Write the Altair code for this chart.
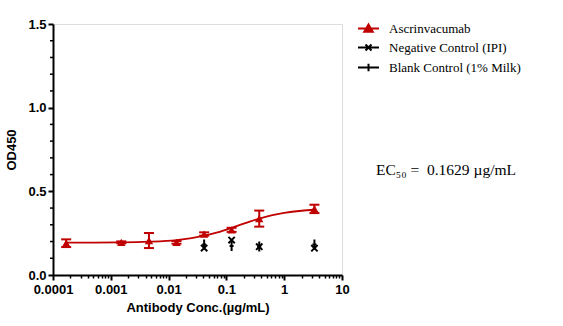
import altair as alt
import pandas as pd

# ---------------- data ----------------
conc = [0.000169, 0.00152, 0.00457, 0.0137, 0.0412, 0.123, 0.370, 3.333]
od_mean = [0.190, 0.195, 0.206, 0.195, 0.245, 0.270, 0.337, 0.395]
od_err = [0.023, 0.006, 0.045, 0.008, 0.010, 0.012, 0.048, 0.025]

ctrl_conc = [0.0412, 0.123, 0.370, 3.333]
neg_od = [0.161, 0.209, 0.169, 0.160]
blank_od = [0.182, 0.174, 0.170, 0.183]

# fitted curve
curve_conc = [0.000169, 0.0005, 0.0015, 0.0046, 0.0137, 0.025, 0.041, 0.07,
              0.123, 0.2, 0.37, 0.6, 1.0, 2.0, 3.333]
curve_od = [0.193, 0.194, 0.195, 0.199, 0.209, 0.221, 0.235, 0.255,
            0.282, 0.307, 0.337, 0.356, 0.371, 0.384, 0.390]

series_labels = ["Ascrinvacumab", "Negative Control (IPI)", "Blank Control (1% Milk)"]
x_major = [0.0001, 0.001, 0.01, 0.1, 1, 10]
x_minor = [m * 10 ** k for k in range(-4, 1) for m in range(2, 10)]
y_major = [0.0, 0.5, 1.0, 1.5]
y_minor = [0.1, 0.2, 0.3, 0.4, 0.6, 0.7, 0.8, 0.9, 1.1, 1.2, 1.3, 1.4]
ec50_text = "EC₅₀ =\u00a0 0.1629 µg/mL"

RED = "#C00000"
BLACK = "#000000"
SANS = "Liberation Sans"
SERIF = "Liberation Serif"

main_df = pd.DataFrame({"conc": conc, "od": od_mean,
                        "lo": [m - e for m, e in zip(od_mean, od_err)],
                        "hi": [m + e for m, e in zip(od_mean, od_err)]})
ctrl_df = pd.DataFrame({"conc": ctrl_conc, "neg": neg_od, "blank": blank_od})
curve_df = pd.DataFrame({"conc": curve_conc, "od": curve_od})
legend_df = pd.DataFrame({"series": series_labels})
yminor_df = pd.DataFrame({"v": y_minor})

x_is_major = "abs(log(datum.value)/log(10) - round(log(datum.value)/log(10))) < 1e-6"

xscale = alt.Scale(type="log", domain=[0.0001, 10], nice=False)
yscale = alt.Scale(domain=[0, 1.5], nice=False, zero=False)

xaxis = alt.Axis(values=sorted(x_major + x_minor), format="~g",
                 labelExpr=f"({x_is_major}) ? datum.label : ''",
                 title="Antibody Conc.(µg/mL)",
                 grid=False, domainWidth=2, domainColor=BLACK, tickColor=BLACK,
                 tickWidth={"condition": {"test": x_is_major, "value": 2}, "value": 1.5},
                 tickSize={"condition": {"test": x_is_major, "value": 5}, "value": 3},
                 labelFont=SANS, labelFontWeight="bold",
                 labelFontSize=13, labelColor=BLACK, labelPadding=3,
                 titleFont=SANS, titleFontWeight="bold", titleFontSize=13,
                 titleColor=BLACK, titlePadding=5, labelFlush=False,
                 labelOverlap=False)
yaxis = alt.Axis(values=y_major, format=".1f",
                 title="OD450", grid=False,
                 domainWidth=2, domainColor=BLACK, tickColor=BLACK,
                 tickWidth=2, tickSize=5,
                 labelFont=SANS, labelFontWeight="bold", labelFontSize=13,
                 labelColor=BLACK, labelPadding=2, titleFont=SANS,
                 titleFontWeight="bold", titleFontSize=13, titleColor=BLACK,
                 titlePadding=9, labelOverlap=False, labelFlush=False)

curve = alt.Chart(curve_df).mark_line(color=RED, strokeWidth=1.8,
                                      interpolate="monotone").encode(
    x=alt.X("conc:Q", scale=xscale, axis=xaxis),
    y=alt.Y("od:Q", scale=yscale, axis=yaxis),
)

# minor ticks of the y axis
yminor = alt.Chart(yminor_df).mark_rule(color=BLACK, strokeWidth=1.5, clip=False).encode(
    y=alt.Y("v:Q"), x=alt.value(-3), x2=alt.value(0))

err_rule = alt.Chart(main_df).mark_rule(color=RED, strokeWidth=2, opacity=1).encode(
    x=alt.X("conc:Q"), y=alt.Y("lo:Q"), y2="hi:Q")
cap_lo = alt.Chart(main_df).mark_tick(color=RED, orient="horizontal", size=10,
                                      thickness=2, opacity=1).encode(
    x=alt.X("conc:Q"), y=alt.Y("lo:Q"))
cap_hi = alt.Chart(main_df).mark_tick(color=RED, orient="horizontal", size=10,
                                      thickness=2, opacity=1).encode(
    x=alt.X("conc:Q"), y=alt.Y("hi:Q"))

tri = alt.Chart(main_df).mark_point(shape="triangle-up", filled=True, color=RED,
                                    size=70, opacity=1).encode(
    x=alt.X("conc:Q"), y=alt.Y("od:Q"))

neg = alt.Chart(ctrl_df).mark_point(
    shape="M-1,-1L1,1M-1,1L1,-1", filled=False, stroke=BLACK, strokeWidth=2,
    size=40, opacity=1).encode(
    x=alt.X("conc:Q"), y=alt.Y("neg:Q"))

blank = alt.Chart(ctrl_df).mark_point(
    shape="M0,-1L0,1M-0.4,0L0.4,0", filled=False, stroke=BLACK, strokeWidth=2,
    size=100, opacity=1).encode(
    x=alt.X("conc:Q"), y=alt.Y("blank:Q"))

legend_paths = [
    "M-2.1,0L2.1,0M0,-0.8L0.85,0.65L-0.85,0.65Z",
    "M-2.1,0L2.1,0M-0.6,-0.6L0.6,0.6M-0.6,0.6L0.6,-0.6",
    "M-2.1,0L2.1,0M0,-0.75L0,0.75",
]
leg = alt.Legend(title=None, orient="none", legendX=309, legendY=-2,
                 labelFont=SERIF, labelFontSize=13, labelColor=BLACK,
                 symbolSize=100, symbolStrokeWidth=2, symbolOpacity=1,
                 labelOffset=14, rowPadding=4, padding=0)
legend_layer = alt.Chart(legend_df).mark_point(filled=True, size=100, opacity=1).encode(
    x=alt.value(0), y=alt.value(0),
    shape=alt.Shape("series:N", scale=alt.Scale(domain=series_labels,
                                                range=legend_paths), legend=leg),
    fill=alt.Fill("series:N", scale=alt.Scale(domain=series_labels,
                                              range=[RED, BLACK, BLACK]), legend=leg),
    stroke=alt.Stroke("series:N", scale=alt.Scale(domain=series_labels,
                                                  range=[RED, BLACK, BLACK]), legend=leg),
).transform_filter("false")

ec50 = alt.Chart(pd.DataFrame({"t": [ec50_text]})).mark_text(
    font=SERIF, fontSize=15.5, color=BLACK, align="left", baseline="middle").encode(
    x=alt.value(323), y=alt.value(146), text="t:N")

chart = alt.layer(curve, yminor, err_rule, cap_lo, cap_hi, tri, neg, blank,
                  legend_layer, ec50).properties(
    width=289, height=251,
    autosize=alt.AutoSizeParams(type="none"),
    padding={"left": 53, "top": 24, "right": 221, "bottom": 51},
).configure_view(stroke=None).configure(background="white")

chart.save("out.html", embed_options={"renderer": "svg", "actions": False})
